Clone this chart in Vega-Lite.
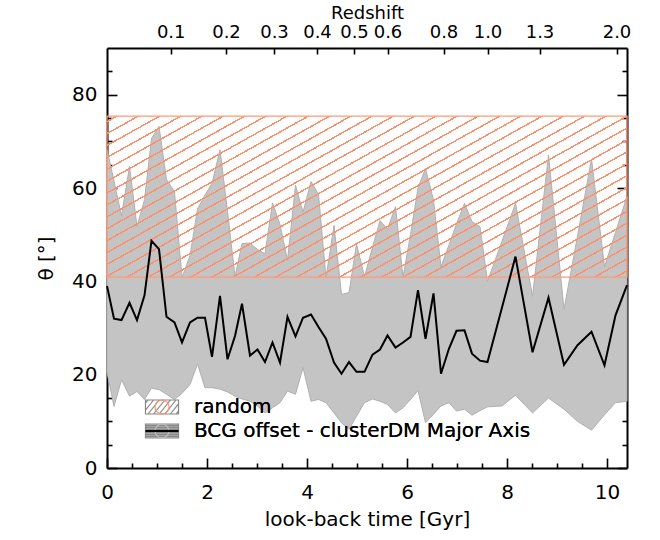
{
  "$schema": "https://vega.github.io/schema/vega-lite/v6.json",
  "width": 520,
  "height": 420,
  "autosize": "none",
  "padding": {"left": 107, "top": 48, "right": 33, "bottom": 72},
  "background": "white",
  "config": {
    "view": {"stroke": null},
    "font": "DejaVu Sans",
    "axis": {
      "zindex": 1,
      "grid": false,
      "domainColor": "black",
      "domainWidth": 2,
      "tickColor": "black",
      "tickWidth": 1.6,
      "labelColor": "black",
      "titleColor": "black",
      "labelFont": "DejaVu Sans",
      "titleFont": "DejaVu Sans",
      "labelFontSize": 20,
      "titleFontSize": 20,
      "titleFontWeight": "normal",
      "labelOverlap": false,
      "labelFlush": false,
      "labelBound": false
    },
    "legend": {"labelLimit": 0}
  },
  "resolve": {
    "axis": {"x": "independent", "y": "independent"},
    "scale": {"color": "independent"},
    "legend": {"color": "independent"}
  },
  "datasets": {
    "theta": [
      {"t": 0.00, "lo": 20.5, "med": 39.0, "hi": 68.2},
      {"t": 0.14, "lo": 13.2, "med": 32.0, "hi": 61.5},
      {"t": 0.29, "lo": 18.9, "med": 31.7, "hi": 54.0},
      {"t": 0.45, "lo": 15.4, "med": 35.4, "hi": 64.6},
      {"t": 0.60, "lo": 16.4, "med": 31.7, "hi": 51.8},
      {"t": 0.75, "lo": 14.7, "med": 37.0, "hi": 57.5},
      {"t": 0.89, "lo": 17.1, "med": 48.7, "hi": 70.6},
      {"t": 1.04, "lo": 16.8, "med": 46.9, "hi": 73.2},
      {"t": 1.19, "lo": 15.8, "med": 32.4, "hi": 61.8},
      {"t": 1.35, "lo": 14.7, "med": 31.2, "hi": 59.2},
      {"t": 1.50, "lo": 16.0, "med": 26.9, "hi": 40.8},
      {"t": 1.66, "lo": 17.9, "med": 31.2, "hi": 45.5},
      {"t": 1.81, "lo": 22.3, "med": 32.2, "hi": 55.5},
      {"t": 1.96, "lo": 17.2, "med": 32.2, "hi": 58.5},
      {"t": 2.10, "lo": 17.2, "med": 23.8, "hi": 61.0},
      {"t": 2.26, "lo": 16.9, "med": 36.9, "hi": 68.2},
      {"t": 2.41, "lo": 16.3, "med": 23.3, "hi": 55.0},
      {"t": 2.56, "lo": 15.4, "med": 28.3, "hi": 41.0},
      {"t": 2.70, "lo": 14.8, "med": 35.2, "hi": 48.1},
      {"t": 2.86, "lo": 14.3, "med": 24.1, "hi": 48.2},
      {"t": 3.01, "lo": 13.3, "med": 25.4, "hi": 46.8},
      {"t": 3.16, "lo": 11.8, "med": 22.7, "hi": 45.9},
      {"t": 3.31, "lo": 12.9, "med": 26.9, "hi": 56.8},
      {"t": 3.46, "lo": 14.0, "med": 22.6, "hi": 52.2},
      {"t": 3.61, "lo": 16.5, "med": 32.4, "hi": 44.5},
      {"t": 3.77, "lo": 15.8, "med": 28.2, "hi": 60.6},
      {"t": 3.92, "lo": 21.5, "med": 32.2, "hi": 54.8},
      {"t": 4.08, "lo": 14.3, "med": 32.9, "hi": 61.4},
      {"t": 4.23, "lo": 14.7, "med": 30.2, "hi": 58.6},
      {"t": 4.38, "lo": 14.0, "med": 27.7, "hi": 40.8},
      {"t": 4.54, "lo": 11.8, "med": 22.6, "hi": 52.0},
      {"t": 4.69, "lo": 9.7, "med": 20.2, "hi": 37.2},
      {"t": 4.84, "lo": 8.3, "med": 22.7, "hi": 37.6},
      {"t": 4.99, "lo": 11.1, "med": 20.6, "hi": 48.0},
      {"t": 5.15, "lo": 14.0, "med": 20.6, "hi": 41.0},
      {"t": 5.31, "lo": 14.8, "med": 24.3, "hi": 47.3},
      {"t": 5.46, "lo": 14.3, "med": 25.4, "hi": 53.0},
      {"t": 5.61, "lo": 13.6, "med": 28.4, "hi": 51.2},
      {"t": 5.77, "lo": 11.8, "med": 25.8, "hi": 56.0},
      {"t": 5.92, "lo": 12.9, "med": 26.9, "hi": 40.9},
      {"t": 6.07, "lo": 14.7, "med": 28.1, "hi": 50.0},
      {"t": 6.22, "lo": 16.6, "med": 38.1, "hi": 60.0},
      {"t": 6.37, "lo": 9.7, "med": 27.7, "hi": 64.2},
      {"t": 6.53, "lo": 11.5, "med": 37.4, "hi": 57.4},
      {"t": 6.68, "lo": 13.3, "med": 20.2, "hi": 43.1},
      {"t": 6.84, "lo": 14.0, "med": 25.6, "hi": 47.8},
      {"t": 6.99, "lo": 12.2, "med": 29.4, "hi": 52.3},
      {"t": 7.15, "lo": 12.6, "med": 29.5, "hi": 56.7},
      {"t": 7.30, "lo": 11.3, "med": 24.5, "hi": 52.8},
      {"t": 7.46, "lo": 12.3, "med": 23.0, "hi": 51.7},
      {"t": 7.61, "lo": 13.1, "med": 22.7, "hi": 40.0},
      {"t": 7.90, "lo": 13.3, "med": 34.4, "hi": 48.6},
      {"t": 8.17, "lo": 15.6, "med": 45.3, "hi": 56.7},
      {"t": 8.51, "lo": 11.8, "med": 24.8, "hi": 36.8},
      {"t": 8.83, "lo": 15.0, "med": 36.5, "hi": 67.1},
      {"t": 9.14, "lo": 12.6, "med": 22.1, "hi": 34.0},
      {"t": 9.41, "lo": 10.0, "med": 26.3, "hi": 49.7},
      {"t": 9.69, "lo": 8.1, "med": 29.2, "hi": 66.2},
      {"t": 9.95, "lo": 11.4, "med": 22.0, "hi": 43.1},
      {"t": 10.17, "lo": 14.0, "med": 32.7, "hi": 50.5},
      {"t": 10.40, "lo": 14.3, "med": 39.2, "hi": 58.2}
    ],
    "rnd": [{"lo": 40.9, "hi": 75.4}],
    "keys": [{"series": "random", "series2": "random", "t": 0, "v": 0}]
  },
  "layer": [
    {
      "data": {"name": "theta"},
      "mark": {"type": "area", "fill": "#c4c4c4", "stroke": "#b0b0b0", "strokeWidth": 1, "opacity": 1},
      "encoding": {
        "x": {
          "field": "t", "type": "quantitative",
          "scale": {"domain": [0, 10.4], "nice": false, "zero": false},
          "axis": {"orient": "bottom", "values": [0, 2, 4, 6, 8, 10], "title": "look-back time [Gyr]",
                   "tickSize": -10, "labelPadding": 24, "titlePadding": 7}
        },
        "y": {
          "field": "lo", "type": "quantitative",
          "scale": {"domain": [0, 90], "nice": false, "zero": false},
          "axis": {"orient": "left", "values": [0, 20, 40, 60, 80], "title": "θ [°]",
                   "tickSize": -10, "labelPadding": 20, "titlePadding": 15}
        },
        "y2": {"field": "hi"}
      }
    },
    {
      "data": {"name": "rnd"},
      "mark": {
        "type": "rect",
        "stroke": "#ff9a78",
        "strokeWidth": 1.3,
        "fill": {
          "gradient": "linear", "x1": 0, "y1": 0, "x2": 1.189, "y2": 0.658,
          "stops": [
            {"offset": 0, "color": "rgba(255,140,100,0)"},
            {"offset": 0.0105, "color": "rgba(255,140,100,0)"}, {"offset": 0.0105, "color": "#ff8f6b"}, {"offset": 0.0142, "color": "#ff8f6b"}, {"offset": 0.0142, "color": "rgba(255,140,100,0)"},
            {"offset": 0.0368, "color": "rgba(255,140,100,0)"}, {"offset": 0.0368, "color": "#ff8f6b"}, {"offset": 0.0405, "color": "#ff8f6b"}, {"offset": 0.0405, "color": "rgba(255,140,100,0)"},
            {"offset": 0.0632, "color": "rgba(255,140,100,0)"}, {"offset": 0.0632, "color": "#ff8f6b"}, {"offset": 0.0668, "color": "#ff8f6b"}, {"offset": 0.0668, "color": "rgba(255,140,100,0)"},
            {"offset": 0.0895, "color": "rgba(255,140,100,0)"}, {"offset": 0.0895, "color": "#ff8f6b"}, {"offset": 0.0932, "color": "#ff8f6b"}, {"offset": 0.0932, "color": "rgba(255,140,100,0)"},
            {"offset": 0.1158, "color": "rgba(255,140,100,0)"}, {"offset": 0.1158, "color": "#ff8f6b"}, {"offset": 0.1195, "color": "#ff8f6b"}, {"offset": 0.1195, "color": "rgba(255,140,100,0)"},
            {"offset": 0.1421, "color": "rgba(255,140,100,0)"}, {"offset": 0.1421, "color": "#ff8f6b"}, {"offset": 0.1458, "color": "#ff8f6b"}, {"offset": 0.1458, "color": "rgba(255,140,100,0)"},
            {"offset": 0.1684, "color": "rgba(255,140,100,0)"}, {"offset": 0.1684, "color": "#ff8f6b"}, {"offset": 0.1721, "color": "#ff8f6b"}, {"offset": 0.1721, "color": "rgba(255,140,100,0)"},
            {"offset": 0.1947, "color": "rgba(255,140,100,0)"}, {"offset": 0.1947, "color": "#ff8f6b"}, {"offset": 0.1984, "color": "#ff8f6b"}, {"offset": 0.1984, "color": "rgba(255,140,100,0)"},
            {"offset": 0.2211, "color": "rgba(255,140,100,0)"}, {"offset": 0.2211, "color": "#ff8f6b"}, {"offset": 0.2247, "color": "#ff8f6b"}, {"offset": 0.2247, "color": "rgba(255,140,100,0)"},
            {"offset": 0.2474, "color": "rgba(255,140,100,0)"}, {"offset": 0.2474, "color": "#ff8f6b"}, {"offset": 0.2511, "color": "#ff8f6b"}, {"offset": 0.2511, "color": "rgba(255,140,100,0)"},
            {"offset": 0.2737, "color": "rgba(255,140,100,0)"}, {"offset": 0.2737, "color": "#ff8f6b"}, {"offset": 0.2774, "color": "#ff8f6b"}, {"offset": 0.2774, "color": "rgba(255,140,100,0)"},
            {"offset": 0.3000, "color": "rgba(255,140,100,0)"}, {"offset": 0.3000, "color": "#ff8f6b"}, {"offset": 0.3037, "color": "#ff8f6b"}, {"offset": 0.3037, "color": "rgba(255,140,100,0)"},
            {"offset": 0.3263, "color": "rgba(255,140,100,0)"}, {"offset": 0.3263, "color": "#ff8f6b"}, {"offset": 0.3300, "color": "#ff8f6b"}, {"offset": 0.3300, "color": "rgba(255,140,100,0)"},
            {"offset": 0.3526, "color": "rgba(255,140,100,0)"}, {"offset": 0.3526, "color": "#ff8f6b"}, {"offset": 0.3563, "color": "#ff8f6b"}, {"offset": 0.3563, "color": "rgba(255,140,100,0)"},
            {"offset": 0.3789, "color": "rgba(255,140,100,0)"}, {"offset": 0.3789, "color": "#ff8f6b"}, {"offset": 0.3826, "color": "#ff8f6b"}, {"offset": 0.3826, "color": "rgba(255,140,100,0)"},
            {"offset": 0.4053, "color": "rgba(255,140,100,0)"}, {"offset": 0.4053, "color": "#ff8f6b"}, {"offset": 0.4089, "color": "#ff8f6b"}, {"offset": 0.4089, "color": "rgba(255,140,100,0)"},
            {"offset": 0.4316, "color": "rgba(255,140,100,0)"}, {"offset": 0.4316, "color": "#ff8f6b"}, {"offset": 0.4353, "color": "#ff8f6b"}, {"offset": 0.4353, "color": "rgba(255,140,100,0)"},
            {"offset": 0.4579, "color": "rgba(255,140,100,0)"}, {"offset": 0.4579, "color": "#ff8f6b"}, {"offset": 0.4616, "color": "#ff8f6b"}, {"offset": 0.4616, "color": "rgba(255,140,100,0)"},
            {"offset": 0.4842, "color": "rgba(255,140,100,0)"}, {"offset": 0.4842, "color": "#ff8f6b"}, {"offset": 0.4879, "color": "#ff8f6b"}, {"offset": 0.4879, "color": "rgba(255,140,100,0)"},
            {"offset": 0.5105, "color": "rgba(255,140,100,0)"}, {"offset": 0.5105, "color": "#ff8f6b"}, {"offset": 0.5142, "color": "#ff8f6b"}, {"offset": 0.5142, "color": "rgba(255,140,100,0)"},
            {"offset": 0.5368, "color": "rgba(255,140,100,0)"}, {"offset": 0.5368, "color": "#ff8f6b"}, {"offset": 0.5405, "color": "#ff8f6b"}, {"offset": 0.5405, "color": "rgba(255,140,100,0)"},
            {"offset": 0.5632, "color": "rgba(255,140,100,0)"}, {"offset": 0.5632, "color": "#ff8f6b"}, {"offset": 0.5668, "color": "#ff8f6b"}, {"offset": 0.5668, "color": "rgba(255,140,100,0)"},
            {"offset": 0.5895, "color": "rgba(255,140,100,0)"}, {"offset": 0.5895, "color": "#ff8f6b"}, {"offset": 0.5932, "color": "#ff8f6b"}, {"offset": 0.5932, "color": "rgba(255,140,100,0)"},
            {"offset": 0.6158, "color": "rgba(255,140,100,0)"}, {"offset": 0.6158, "color": "#ff8f6b"}, {"offset": 0.6195, "color": "#ff8f6b"}, {"offset": 0.6195, "color": "rgba(255,140,100,0)"},
            {"offset": 0.6421, "color": "rgba(255,140,100,0)"}, {"offset": 0.6421, "color": "#ff8f6b"}, {"offset": 0.6458, "color": "#ff8f6b"}, {"offset": 0.6458, "color": "rgba(255,140,100,0)"},
            {"offset": 0.6684, "color": "rgba(255,140,100,0)"}, {"offset": 0.6684, "color": "#ff8f6b"}, {"offset": 0.6721, "color": "#ff8f6b"}, {"offset": 0.6721, "color": "rgba(255,140,100,0)"},
            {"offset": 0.6947, "color": "rgba(255,140,100,0)"}, {"offset": 0.6947, "color": "#ff8f6b"}, {"offset": 0.6984, "color": "#ff8f6b"}, {"offset": 0.6984, "color": "rgba(255,140,100,0)"},
            {"offset": 0.7211, "color": "rgba(255,140,100,0)"}, {"offset": 0.7211, "color": "#ff8f6b"}, {"offset": 0.7247, "color": "#ff8f6b"}, {"offset": 0.7247, "color": "rgba(255,140,100,0)"},
            {"offset": 0.7474, "color": "rgba(255,140,100,0)"}, {"offset": 0.7474, "color": "#ff8f6b"}, {"offset": 0.7511, "color": "#ff8f6b"}, {"offset": 0.7511, "color": "rgba(255,140,100,0)"},
            {"offset": 0.7737, "color": "rgba(255,140,100,0)"}, {"offset": 0.7737, "color": "#ff8f6b"}, {"offset": 0.7774, "color": "#ff8f6b"}, {"offset": 0.7774, "color": "rgba(255,140,100,0)"},
            {"offset": 0.8000, "color": "rgba(255,140,100,0)"}, {"offset": 0.8000, "color": "#ff8f6b"}, {"offset": 0.8037, "color": "#ff8f6b"}, {"offset": 0.8037, "color": "rgba(255,140,100,0)"},
            {"offset": 0.8263, "color": "rgba(255,140,100,0)"}, {"offset": 0.8263, "color": "#ff8f6b"}, {"offset": 0.8300, "color": "#ff8f6b"}, {"offset": 0.8300, "color": "rgba(255,140,100,0)"},
            {"offset": 0.8526, "color": "rgba(255,140,100,0)"}, {"offset": 0.8526, "color": "#ff8f6b"}, {"offset": 0.8563, "color": "#ff8f6b"}, {"offset": 0.8563, "color": "rgba(255,140,100,0)"},
            {"offset": 0.8789, "color": "rgba(255,140,100,0)"}, {"offset": 0.8789, "color": "#ff8f6b"}, {"offset": 0.8826, "color": "#ff8f6b"}, {"offset": 0.8826, "color": "rgba(255,140,100,0)"},
            {"offset": 0.9053, "color": "rgba(255,140,100,0)"}, {"offset": 0.9053, "color": "#ff8f6b"}, {"offset": 0.9089, "color": "#ff8f6b"}, {"offset": 0.9089, "color": "rgba(255,140,100,0)"},
            {"offset": 0.9316, "color": "rgba(255,140,100,0)"}, {"offset": 0.9316, "color": "#ff8f6b"}, {"offset": 0.9353, "color": "#ff8f6b"}, {"offset": 0.9353, "color": "rgba(255,140,100,0)"},
            {"offset": 0.9579, "color": "rgba(255,140,100,0)"}, {"offset": 0.9579, "color": "#ff8f6b"}, {"offset": 0.9616, "color": "#ff8f6b"}, {"offset": 0.9616, "color": "rgba(255,140,100,0)"},
            {"offset": 0.9842, "color": "rgba(255,140,100,0)"}, {"offset": 0.9842, "color": "#ff8f6b"}, {"offset": 0.9879, "color": "#ff8f6b"}, {"offset": 0.9879, "color": "rgba(255,140,100,0)"},
            {"offset": 1, "color": "rgba(255,140,100,0)"}
          ]
        }
      },
      "encoding": {
        "y": {
          "field": "lo", "type": "quantitative",
          "axis": {"orient": "right", "values": [0, 20, 40, 60, 80], "labels": false, "title": null, "tickSize": -10}
        },
        "y2": {"field": "hi"}
      }
    },
    {
      "data": {"name": "theta"},
      "mark": {"type": "line", "color": "black", "strokeWidth": 2},
      "encoding": {
        "x": {
          "field": "t", "type": "quantitative",
          "axis": {
            "orient": "top", "title": "Redshift", "titleFontSize": 18, "labelFontSize": 18,
            "values": [1.274, 2.38, 3.34, 4.2, 4.94, 5.61, 6.73, 7.61, 8.65, 10.19],
            "labelExpr": "['0.1','0.2','0.3','0.4','0.5','0.6','0.8','1.0','1.3','2.0'][indexof([1.274,2.38,3.34,4.2,4.94,5.61,6.73,7.61,8.65,10.19], datum.value)]",
            "tickSize": -6, "labelPadding": 13, "titlePadding": 1
          }
        },
        "y": {
          "field": "med", "type": "quantitative",
          "axis": {"orient": "right", "values": [5, 10, 15, 25, 30, 35, 45, 50, 55, 65, 70, 75, 85], "labels": false, "domain": false, "title": null, "tickSize": -5}
        }
      }
    },
    {
      "data": {"name": "keys"},
      "transform": [{"filter": "false"}],
      "mark": {"type": "point", "opacity": 1, "strokeWidth": 1.2, "filled": false},
      "encoding": {
        "x": {
          "field": "t", "type": "quantitative",
          "axis": {"orient": "bottom", "values": [0.5, 1, 1.5, 2.5, 3, 3.5, 4.5, 5, 5.5, 6.5, 7, 7.5, 8.5, 9, 9.5], "labels": false, "domain": false, "title": null, "tickSize": -5}
        },
        "y": {
          "field": "v", "type": "quantitative",
          "axis": {"orient": "left", "values": [5, 10, 15, 25, 30, 35, 45, 50, 55, 65, 70, 75, 85], "labels": false, "domain": false, "title": null, "tickSize": -5}
        },
        "color": {
          "field": "series", "type": "nominal",
          "scale": {"domain": ["random", "BCG offset - clusterDM Major Axis"], "range": ["#ff8f6b", "#bdbdbd"]},
          "legend": {
            "orient": "none", "legendX": 45, "legendY": 349, "title": null, "symbolSize": 196, "symbolStrokeWidth": 1.2,
            "labelFontSize": 20, "labelFont": "DejaVu Sans", "labelColor": "black", "labelOffset": 22, "labelLimit": 0,
            "rowPadding": 4, "padding": 0, "zindex": 1
          }
        },
        "shape": {
          "field": "series", "type": "nominal",
          "scale": {"domain": ["random", "BCG offset - clusterDM Major Axis"],
                    "range": ["M-2.36,-1H2.36V1H-2.36Z M-2.36,-0.55L-2,-1 M-2.36,0.45L-1.2,-1 M-2,1L-0.4,-1 M-1.2,1L0.4,-1 M-0.4,1L1.2,-1 M0.4,1L2,-1 M1.2,1L2.36,-0.45 M2,1L2.36,0.55",
                              "M-2.36,-1H2.36V1H-2.36Z M-2.36,-0.8H2.36 M-2.36,-0.6H2.36 M-2.36,-0.4H2.36 M-2.36,-0.2H2.36 M-2.36,0H2.36 M-2.36,0.2H2.36 M-2.36,0.4H2.36 M-2.36,0.6H2.36 M-2.36,0.8H2.36"]},
          "legend": {
            "orient": "none", "legendX": 45, "legendY": 349, "title": null, "symbolSize": 196, "symbolStrokeWidth": 1.2,
            "labelFontSize": 20, "labelFont": "DejaVu Sans", "labelColor": "black", "labelOffset": 22, "labelLimit": 0,
            "rowPadding": 4, "padding": 0, "zindex": 1
          }
        }
      }
    },
    {
      "data": {"name": "keys"},
      "transform": [{"filter": "false"}],
      "mark": {"type": "point", "opacity": 1, "strokeWidth": 2.2, "filled": false},
      "encoding": {
        "color": {
          "field": "series2", "type": "nominal",
          "scale": {"domain": ["random", "BCG offset - clusterDM Major Axis"], "range": ["rgba(0,0,0,0)", "#000000"]},
          "legend": {
            "orient": "none", "legendX": 45, "legendY": 349, "title": null, "symbolType": "M-2.36,0H2.36", "symbolSize": 196, "symbolStrokeWidth": 2.2,
            "labelFontSize": 20, "labelFont": "DejaVu Sans", "labelColor": "rgba(0,0,0,0)", "labelOffset": 22, "labelLimit": 0,
            "rowPadding": 4, "padding": 0, "zindex": 2
          }
        }
      }
    }
  ]
}
